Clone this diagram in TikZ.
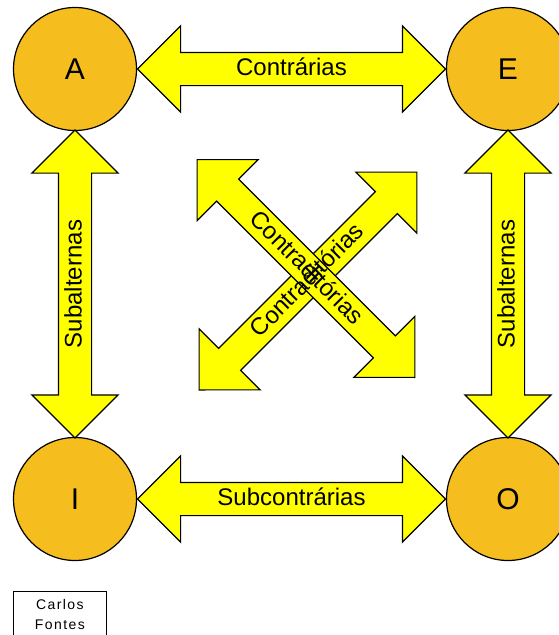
\documentclass[tikz,border=0pt]{standalone}
\usepackage{fontspec}
\setmainfont{Liberation Sans}
\usetikzlibrary{shapes, calc}
\definecolor{termfill}{RGB}{245,190,30}
\definecolor{relationfill}{RGB}{255,255,0}
\tikzstyle{term} = [circle, minimum size=123pt, inner sep=0pt, text centered, draw=black, line width=1.2pt, fill=termfill, font=\fontsize{30}{36}\selectfont]
\tikzstyle{relation} = [double arrow, double arrow head extend=26.5pt, minimum height=308pt, inner xsep=0pt, inner ysep=4pt, text height=18.6pt, text depth=5.4pt, draw=black, line width=1.2pt, fill=relationfill, font=\fontsize{24}{28}\selectfont]
\tikzstyle{relationlabel} = [inner sep=0pt, text height=18.6pt, text depth=5.4pt, font=\fontsize{24}{28}\selectfont]
\tikzstyle{credit} = [rectangle, draw=black, line width=0.8pt, text width=85pt, minimum height=46pt, align=center, inner xsep=4pt, font=\fontsize{14}{20}\selectfont\addfontfeatures{LetterSpace=10}]

\begin{document}
\begin{tikzpicture}[x=1pt, y=-1pt]
\useasboundingbox (0,0) rectangle (558,635);
\node (a) [term] at (75,69) {A};
\node (e) [term] at (508,69) {E};
\node (i) [term] at (75,499) {I};
\node (o) [term] at (508,499) {O};
\node (ae) [relation] at ($(a)!0.5!(e)$) {Contrárias};
\node (io) [relation] at ($(i)!0.5!(o)$) {Subcontrárias};
\node (ai) [relation, rotate=90] at ($(a)!0.5!(i)$) {Subalternas};
\node (eo) [relation, rotate=90] at ($(e)!0.5!(o)$) {Subalternas};
\node (ie) [relation, rotate=45, inner ysep=3pt, double arrow head extend=27.5pt] at (308,281) {};
\node (ao) [relation, rotate=-45, inner ysep=3pt, double arrow head extend=27.5pt] at (306,268.5) {};
\node (ielabel) [relationlabel, rotate=45] at (ie) {Contraditórias};
\node (aolabel) [relationlabel, rotate=-45] at (ao) {Contraditórias};
\node (author) [credit, anchor=north west] at (13,591) {Carlos\\Fontes};
\end{tikzpicture}
\end{document}
